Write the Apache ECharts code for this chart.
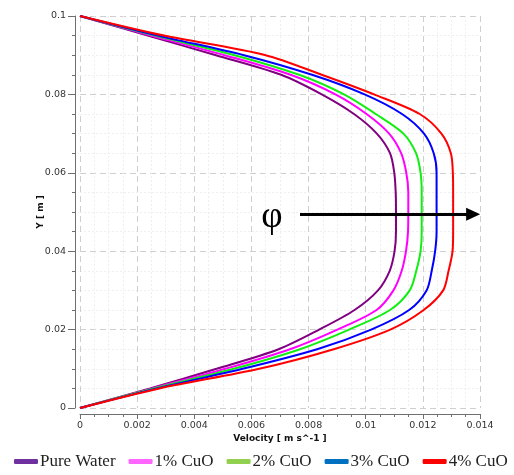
<!DOCTYPE html>
<html>
<head>
<meta charset="utf-8">
<script src="https://cdn.jsdelivr.net/npm/echarts@6/dist/echarts.min.js"></script>
<style>html,body{margin:0;padding:0;background:#fff;}#c{width:514px;height:475px;}</style>
</head>
<body>
<div id="c"></div>
<script>
// Wall-normal position Y [m]
const yPos = [0, 0.005, 0.01, 0.015, 0.02, 0.025, 0.03, 0.035, 0.04, 0.045, 0.05,
              0.055, 0.06, 0.065, 0.07, 0.075, 0.08, 0.085, 0.09, 0.095, 0.1];
// Velocity [m s^-1] for each case
const pureWater = [0, 0.00245, 0.00478, 0.00695, 0.00837, 0.00961, 0.01043, 0.01084, 0.01101, 0.01106, 0.01106,
                   0.01105, 0.01100, 0.01085, 0.01039, 0.00959, 0.00846, 0.00704, 0.00476, 0.00237, 0];
const cuo1 = [0, 0.00254, 0.00509, 0.00735, 0.00901, 0.01038, 0.01097, 0.01126, 0.01141, 0.01148, 0.01149,
              0.01149, 0.01142, 0.01124, 0.01082, 0.01003, 0.00894, 0.00737, 0.00506, 0.00249, 0];
const cuo2 = [0, 0.00259, 0.00538, 0.00770, 0.00942, 0.01085, 0.01154, 0.01177, 0.01192, 0.01196, 0.01196,
              0.01196, 0.01192, 0.01176, 0.01132, 0.01035, 0.00924, 0.00767, 0.00541, 0.00263, 0];
const cuo3 = [0, 0.00270, 0.00569, 0.00830, 0.01019, 0.01152, 0.01213, 0.01231, 0.01243, 0.01248, 0.01248,
              0.01248, 0.01248, 0.01238, 0.01204, 0.01127, 0.00996, 0.00812, 0.00574, 0.00273, 0];
const cuo4 = [0, 0.00278, 0.00627, 0.00888, 0.01086, 0.01203, 0.01271, 0.01290, 0.01304, 0.01306, 0.01306,
              0.01306, 0.01305, 0.01298, 0.01265, 0.01189, 0.01029, 0.00846, 0.00650, 0.00294, 0];

const seriesNames = ['Pure Water', '1% CuO', '2% CuO', '3% CuO', '4% CuO'];
const seriesValues = [pureWater, cuo1, cuo2, cuo3, cuo4];
const xTicks = {min: 0, max: 0.014, interval: 0.002};
const yTicks = {min: 0, max: 0.1, interval: 0.02};
// annotation: arrow direction of increasing φ
const arrowStart = [0.0077, 0.0494];
const arrowEnd = [0.01376, 0.0494];
const phiPos = [0.00672, 0.0487];

const lineColors = ['#800080', '#ff00ff', '#11ee11', '#0000ff', '#ff0000'];
const legendColors = ['#7030a0', '#ff66ff', '#92d050', '#0070c0', '#ff0000'];

const chart = echarts.init(document.getElementById('c'), null, {renderer: 'canvas'});
const axisCol = '#6f6f6f';
const series = seriesNames.map((n, i) => ({
  name: n, type: 'line', showSymbol: false, smooth: 0.3,
  lineStyle: {width: 2, color: lineColors[i]},
  itemStyle: {color: lineColors[i]},
  data: yPos.map((y, k) => [seriesValues[i][k], y]),
  z: 3
}));
series.push({
  name: 'arrow', type: 'line', data: [], silent: true,
  markLine: {
    silent: true, symbol: ['none', 'triangle'], symbolSize: [13, 14],
    lineStyle: {color: '#000', width: 3, type: 'solid'},
    label: {show: false},
    emphasis: {disabled: true},
    data: [[{coord: arrowStart}, {coord: arrowEnd}]]
  },
  markPoint: {
    silent: true, symbol: 'rect', symbolSize: 1,
    itemStyle: {color: 'rgba(0,0,0,0)'},
    label: {show: true, position: 'inside', formatter: 'φ', color: '#000',
            fontSize: 37, fontFamily: 'Liberation Serif'},
    data: [{coord: phiPos}]
  }
});

chart.setOption({
  animation: false,
  backgroundColor: '#fff',
  grid: {left: 80, right: 34, top: 16, bottom: 67},
  legend: {
    left: 9, bottom: 0, width: 512, itemGap: 13, itemWidth: 24, itemHeight: 5, icon: 'roundRect',
    textStyle: {fontFamily: 'Liberation Serif', fontSize: 17, color: '#222', padding: [0, 0, 0, -3]},
    data: seriesNames.map((n, i) => ({name: n, itemStyle: {color: legendColors[i]}}))
  },
  xAxis: {
    type: 'value', min: xTicks.min, max: xTicks.max, interval: xTicks.interval, offset: 6,
    axisLine: {show: true, onZero: false, lineStyle: {color: axisCol}},
    axisTick: {show: true, length: 5, lineStyle: {color: axisCol}},
    minorTick: {show: true, splitNumber: 4, length: 3, lineStyle: {color: axisCol}},
    splitLine: {show: true, lineStyle: {color: '#cfcfcf', type: [6, 4]}},
    minorSplitLine: {show: true, lineStyle: {color: '#efefef', type: [2, 2]}},
    axisLabel: {fontSize: 9.5, fontFamily: 'DejaVu Sans', color: '#333', margin: 7},
    name: 'Velocity [ m s^-1 ]', nameLocation: 'middle', nameGap: 20, nameMoveOverlap: false,
    nameTextStyle: {fontWeight: 'bold', fontSize: 9, fontFamily: 'DejaVu Sans', color: '#111'}
  },
  yAxis: {
    type: 'value', min: yTicks.min, max: yTicks.max, interval: yTicks.interval, offset: 5,
    axisLine: {show: true, onZero: false, lineStyle: {color: axisCol}},
    axisTick: {show: true, length: 7, lineStyle: {color: axisCol}},
    minorTick: {show: true, splitNumber: 4, length: 3, lineStyle: {color: axisCol}},
    splitLine: {show: true, lineStyle: {color: '#cfcfcf', type: [6, 4]}},
    minorSplitLine: {show: true, lineStyle: {color: '#efefef', type: [2, 2]}},
    axisLabel: {fontSize: 9.5, fontFamily: 'DejaVu Sans', color: '#333', margin: 9},
    name: 'Y [ m ]', nameLocation: 'middle', nameGap: 30, nameRotate: 90, nameMoveOverlap: false,
    nameTextStyle: {fontWeight: 'bold', fontSize: 9, fontFamily: 'DejaVu Sans', color: '#111'}
  },
  series: series
});
</script>
</body>
</html>
